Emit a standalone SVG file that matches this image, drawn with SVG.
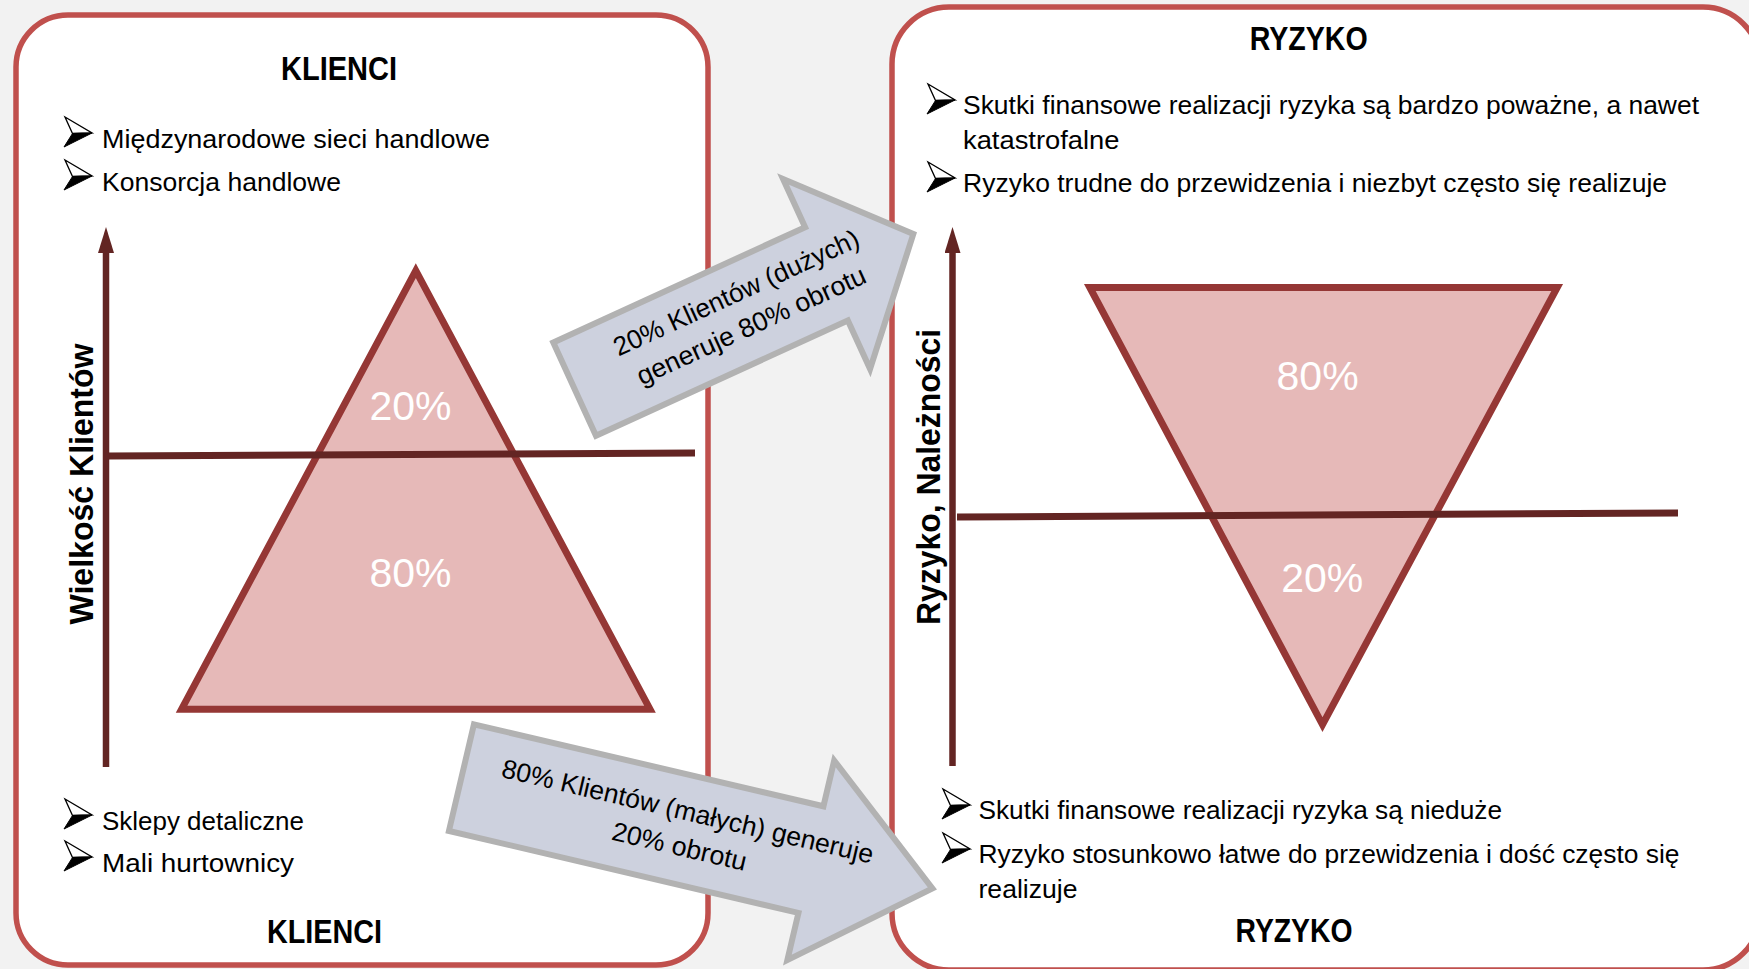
<svg xmlns="http://www.w3.org/2000/svg" xmlns:xlink="http://www.w3.org/1999/xlink" width="1749" height="969" viewBox="0 0 1749 969">
<defs>
<style>
.bg{fill:#f2f2f2}
.panel{fill:#ffffff;stroke:#c0504d;stroke-width:5.5}
.tri{fill:#e6b9b8;stroke:#953735;stroke-width:7;stroke-linejoin:miter}
.axis{stroke:#632523;stroke-width:6.5;fill:none}
.hline{stroke:#632523;stroke-width:7;fill:none}
.title{font-family:"Liberation Sans Narrow","Liberation Sans",Arial,sans-serif;font-weight:bold;font-size:32.5px;fill:#000;text-anchor:middle}
.body{font-family:"Liberation Sans Narrow","Liberation Sans",Arial,sans-serif;font-size:26.5px;fill:#000}
.pct{font-family:"Liberation Sans",Arial,sans-serif;font-size:41px;fill:#ffffff;text-anchor:middle}
.axlbl{font-family:"Liberation Sans",Arial,sans-serif;font-weight:bold;font-size:34px;fill:#000;text-anchor:middle}
.barrow{fill:#cdd1de;stroke:#b2b2b2;stroke-width:6;stroke-linejoin:miter}
.atext{font-family:"Liberation Sans Narrow","Liberation Sans",Arial,sans-serif;font-size:26.5px;fill:#000;text-anchor:middle}
</style>
<marker id="axhead" markerUnits="userSpaceOnUse" markerWidth="26" markerHeight="16" viewBox="0 0 26 16" refX="0" refY="8" orient="auto">
<path d="M0,0 L26,8 L0,16 Z" fill="#632523"/>
</marker>
<g id="bullet">
<polygon points="1,0 28,16 8.5,16.5" fill="#ffffff" stroke="#000" stroke-width="1.3" stroke-linejoin="miter"/>
<polygon points="8.5,16.5 28,16 0,30" fill="#000" stroke="#000" stroke-width="1"/>
</g>
</defs>

<rect class="bg" x="0" y="0" width="1749" height="969"/>

<g id="node-klienci">
<rect class="panel" x="16" y="15" width="692" height="950" rx="52" ry="52"/>
<text class="title" x="339" y="80" textLength="116" lengthAdjust="spacingAndGlyphs">KLIENCI</text>
<use xlink:href="#bullet" href="#bullet" x="64" y="117"/>
<text class="body" x="102" y="148" textLength="388" lengthAdjust="spacingAndGlyphs">Międzynarodowe sieci handlowe</text>
<use xlink:href="#bullet" href="#bullet" x="64" y="160"/>
<text class="body" x="102" y="191" textLength="239" lengthAdjust="spacingAndGlyphs">Konsorcja handlowe</text>
<polygon class="tri" points="415.8,270.7 650,709.2 181.6,709.2"/>
<line class="axis" x1="106" y1="767" x2="106" y2="253" marker-end="url(#axhead)"/>
<line class="hline" x1="108" y1="456" x2="695" y2="453"/>
<text class="pct" x="410.5" y="420">20%</text>
<text class="pct" x="410.5" y="587">80%</text>
<text class="axlbl" transform="translate(93,484) rotate(-90)" textLength="281" lengthAdjust="spacingAndGlyphs">Wielkość Klientów</text>
<use xlink:href="#bullet" href="#bullet" x="64" y="799"/>
<text class="body" x="102" y="830" textLength="202" lengthAdjust="spacingAndGlyphs">Sklepy detaliczne</text>
<use xlink:href="#bullet" href="#bullet" x="64" y="841"/>
<text class="body" x="102" y="872" textLength="192" lengthAdjust="spacingAndGlyphs">Mali hurtownicy</text>
<text class="title" x="324.5" y="943" textLength="115" lengthAdjust="spacingAndGlyphs">KLIENCI</text>
</g>

<g id="node-ryzyko">
<rect class="panel" x="892" y="7" width="868" height="963" rx="57" ry="57"/>
<text class="title" x="1308.7" y="50" textLength="118" lengthAdjust="spacingAndGlyphs">RYZYKO</text>
<use xlink:href="#bullet" href="#bullet" x="927" y="84"/>
<text class="body" x="963" y="114" textLength="736" lengthAdjust="spacingAndGlyphs">Skutki finansowe realizacji ryzyka są bardzo poważne, a nawet</text>
<text class="body" x="963" y="149" textLength="156.5" lengthAdjust="spacingAndGlyphs">katastrofalne</text>
<use xlink:href="#bullet" href="#bullet" x="927" y="162"/>
<text class="body" x="963" y="192" textLength="704" lengthAdjust="spacingAndGlyphs">Ryzyko trudne do przewidzenia i niezbyt często się realizuje</text>
<polygon class="tri" points="1089.8,287.5 1557.2,287.5 1322.5,724.6"/>
<line class="axis" x1="952.5" y1="766" x2="952.5" y2="253" marker-end="url(#axhead)"/>
<line class="hline" x1="957" y1="517" x2="1678" y2="513"/>
<text class="pct" x="1317.6" y="390">80%</text>
<text class="pct" x="1322.3" y="592">20%</text>
<text class="axlbl" transform="translate(940,477) rotate(-90)" textLength="296" lengthAdjust="spacingAndGlyphs">Ryzyko,  Należności</text>
<use xlink:href="#bullet" href="#bullet" x="942" y="789"/>
<text class="body" x="978.5" y="819" textLength="523.5" lengthAdjust="spacingAndGlyphs">Skutki finansowe realizacji ryzyka są nieduże</text>
<use xlink:href="#bullet" href="#bullet" x="942" y="833"/>
<text class="body" x="978.5" y="863" textLength="701" lengthAdjust="spacingAndGlyphs">Ryzyko stosunkowo łatwe do przewidzenia i dość często się</text>
<text class="body" x="978.5" y="898" textLength="99" lengthAdjust="spacingAndGlyphs">realizuje</text>
<text class="title" x="1294" y="942" textLength="117" lengthAdjust="spacingAndGlyphs">RYZYKO</text>
</g>

<g id="connectors">
<g id="arrow-top" transform="translate(549.3,341) rotate(-24.6)">
<polygon class="barrow" points="3,3 280,3 280,-50 375.5,54.3 280,159 280,105.6 3,105.6"/>
<text class="atext" x="190" y="43" textLength="267" lengthAdjust="spacingAndGlyphs">20% Klientów (dużych)</text>
<text class="atext" x="190" y="79" textLength="249" lengthAdjust="spacingAndGlyphs">generuje 80% obrotu</text>
</g>
<g id="arrow-bottom" transform="translate(471.7,720.7) rotate(13.2)">
<polygon class="barrow" points="3,3 362,3 362,-44 486.8,58 362,161 362,112.5 3,112.5"/>
<text class="atext" x="231" y="48" textLength="381" lengthAdjust="spacingAndGlyphs">80% Klientów (małych) generuje</text>
<text class="atext" x="231" y="84" textLength="137.5" lengthAdjust="spacingAndGlyphs">20% obrotu</text>
</g>
</g>
</svg>
